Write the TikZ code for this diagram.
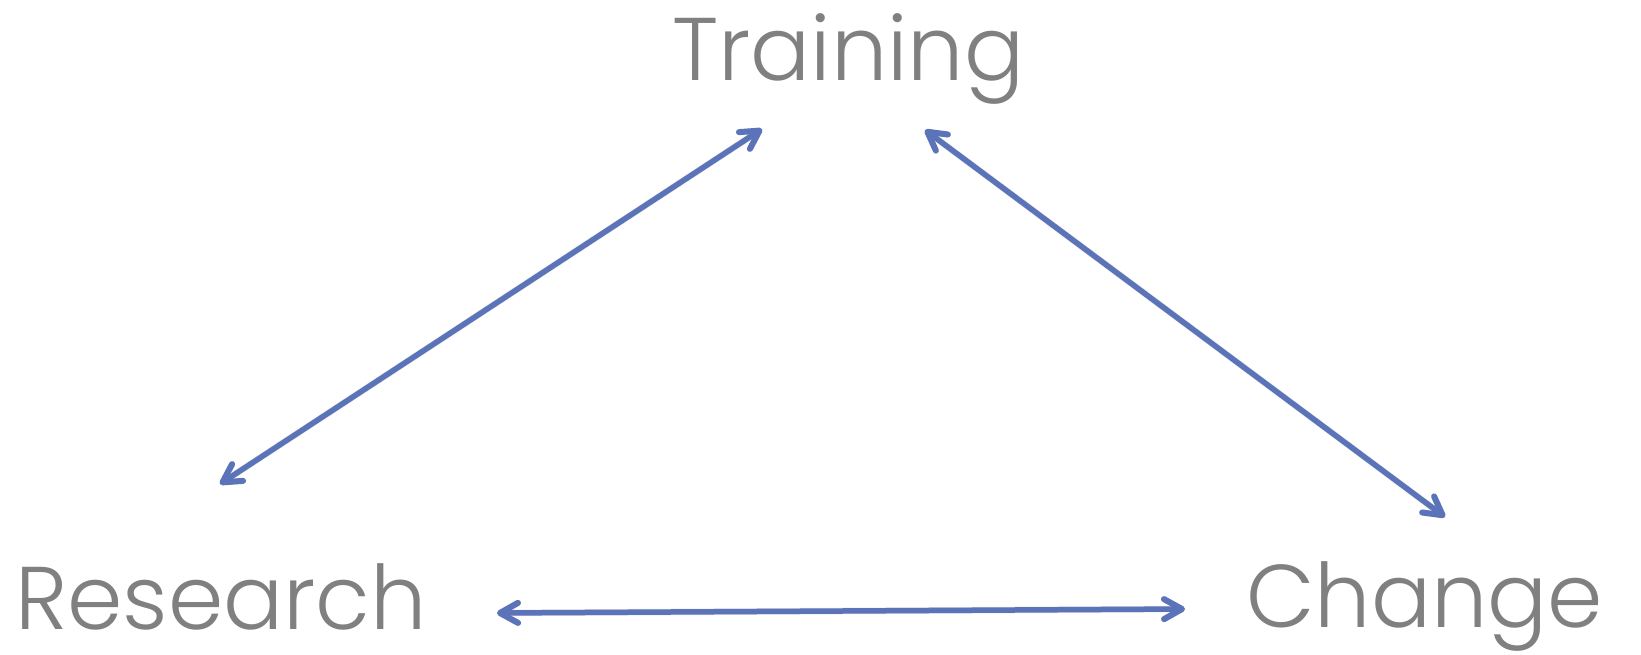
\documentclass[tikz,border=0pt]{standalone}
\usepackage{fontspec}
\setmainfont{Poppins}[UprightFont=* Light]
\usetikzlibrary{arrows.meta}
\definecolor{txtgray}{HTML}{808080}
\definecolor{arrblue}{HTML}{5B73B8}
\definecolor{bggray}{HTML}{E9E9E9}
\pgfdeclareradialshading{vignette}{\pgfpoint{0bp}{0bp}}{color(0bp)=(white); color(38bp)=(white); color(71bp)=(bggray)}
\tikzset{
  barbtip/.tip={Straight Barb[length=18pt, width=20pt, line width=6pt, round]},
  lbl/.style={text=txtgray, font=\fontsize{89}{89}\selectfont, inner sep=0pt, anchor=base west},
  dblarrow/.style={draw=arrblue, line width=5.5pt, line cap=round, {barbtip}-{barbtip}},
  shadowarrow/.style={draw=black, opacity=0.10, line width=6.5pt, line cap=round, {barbtip}-{barbtip}}
}
\begin{document}
\begin{tikzpicture}[x=1pt, y=-1pt]
\useasboundingbox (0,0) rectangle (1641,654);
\shade[shading=vignette] (0,0) rectangle (1641,654);
\node[lbl] (training) at (672,80) {Training};
\node[lbl] (research) at (15,629) {Research};
\node[lbl] (change) at (1246,627) {Change};
\coordinate (tl) at (762,129);
\coordinate (bl) at (220,484);
\coordinate (tr) at (925,130);
\coordinate (br) at (1445,517);
\coordinate (lb) at (497,613);
\coordinate (rb) at (1185,609);
\begin{scope}[shift={(2,3)}]
\draw[shadowarrow] (tl) -- (bl);
\draw[shadowarrow] (tr) -- (br);
\draw[shadowarrow] (lb) -- (rb);
\end{scope}
\draw[dblarrow] (tl) -- (bl);
\draw[dblarrow] (tr) -- (br);
\draw[dblarrow] (lb) -- (rb);
\end{tikzpicture}
\end{document}
